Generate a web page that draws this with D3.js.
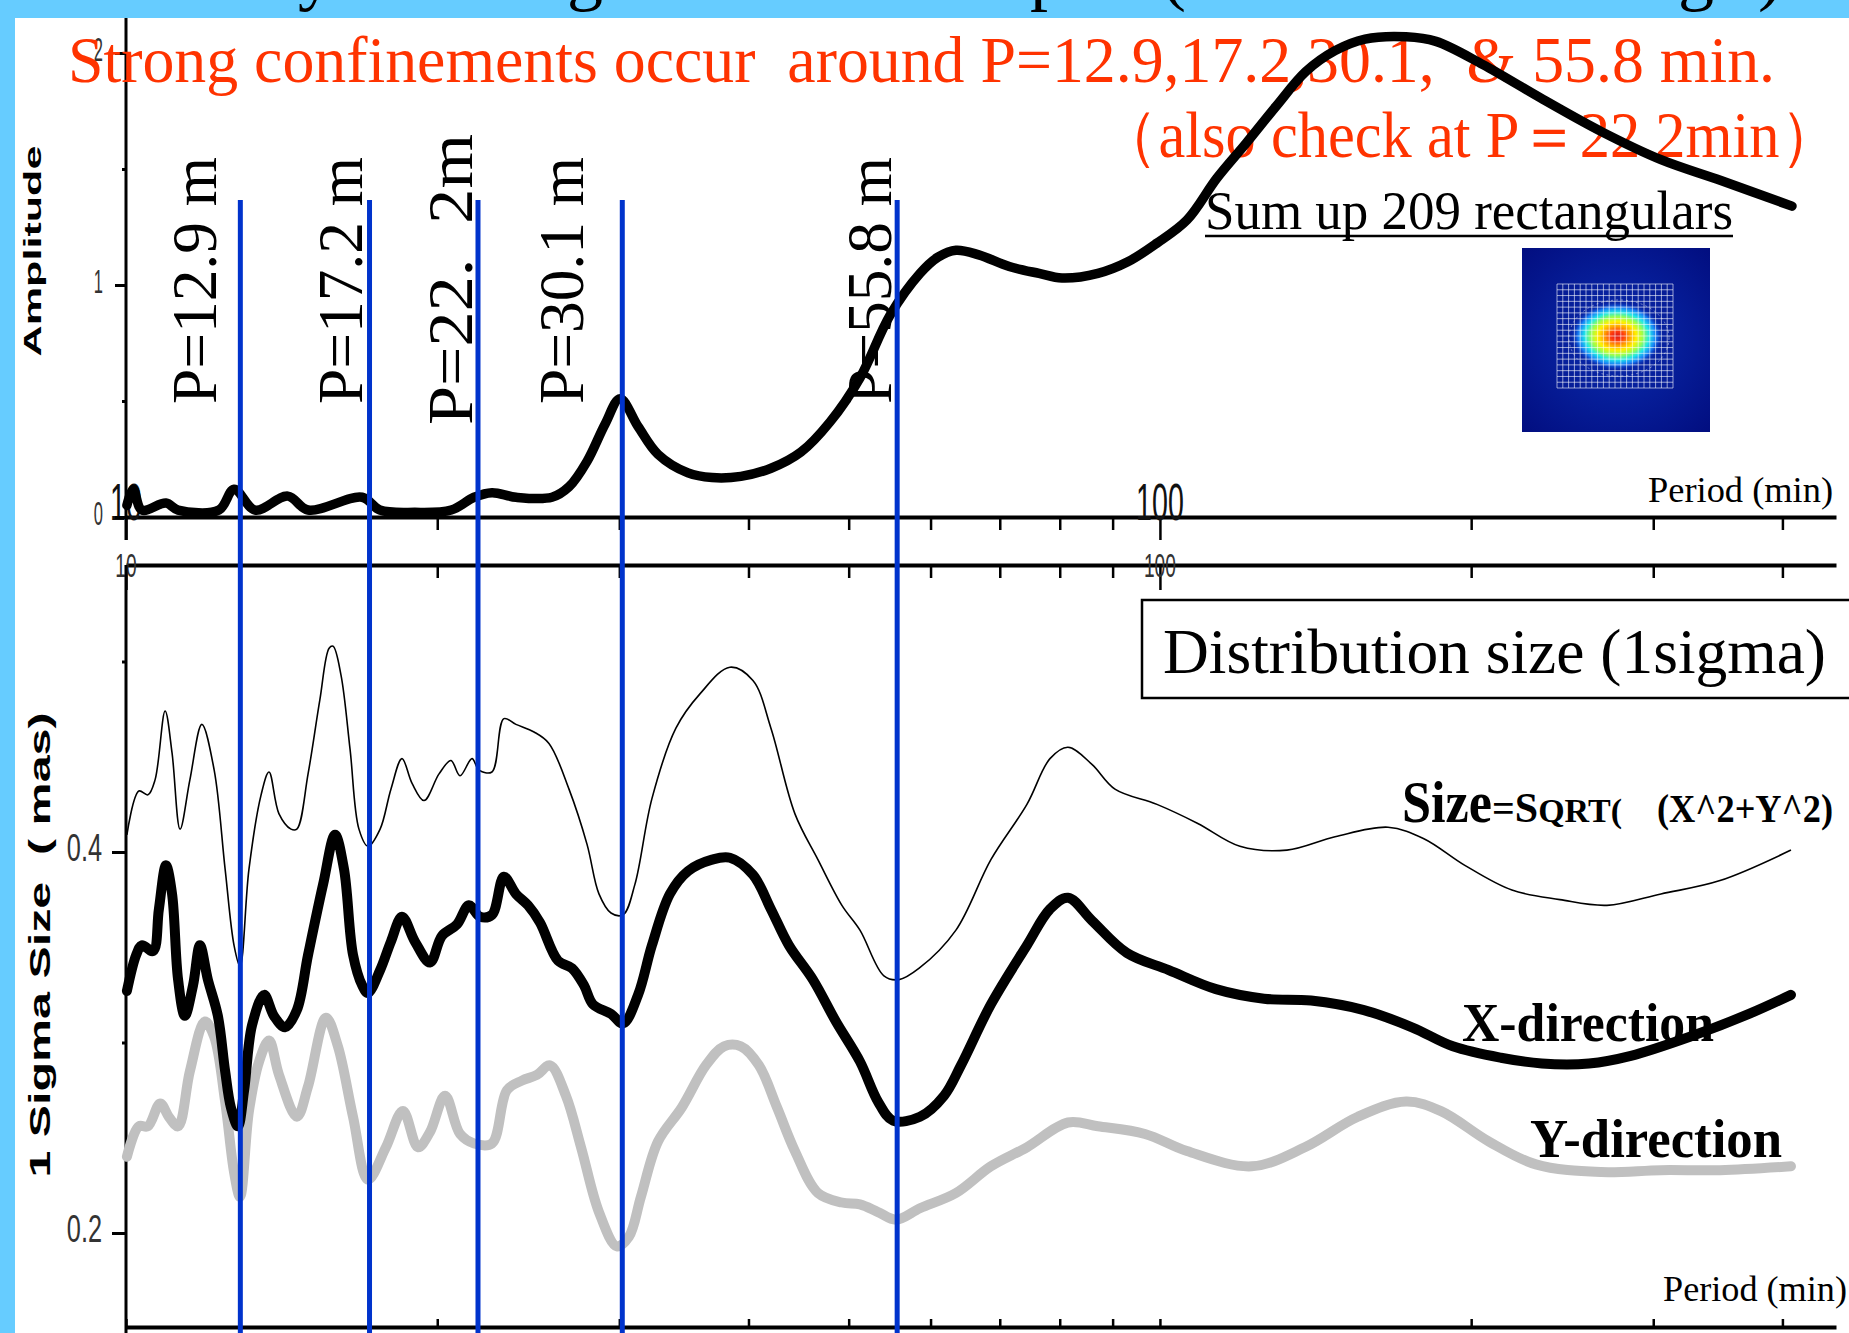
<!DOCTYPE html>
<html><head><meta charset="utf-8">
<script src="https://cdn.jsdelivr.net/npm/d3@7"></script>
<style>body{margin:0;background:#66ccff;} svg{display:block} text{white-space:pre}</style>
</head><body>
<script>
// ---------------- DATA ----------------
const periodTicks = [10,20,30,40,50,60,70,80,90,100,200,300,400];
const majorTicks = [10,100];
const ampTicks = [0,0.5,1,1.5,2];
const ampLabeled = [0,1,2];
const sigmaTicks = [0.2,0.3,0.4,0.5];
const sigmaLabeled = [0.2,0.4];

// Amplitude spectrum (top panel)
const ampPeriod = [10.02,10.16,10.36,10.93,11.23,12.30,12.72,13.33,14.34,15.00,16.92,17.60,19.03,20.63,21.71,22.59,23.84,25.82,26.82,27.92,29.06,30.05,31.28,32.70,34.96,36.88,39.33,42.06,44.96,47.97,51.28,54.83,58.61,61.0,63.5,66.8,71.5,76.4,80.4,87.1,93.1,99.3,106.2,113.5,121.1,129.5,138.4,147.7,157.9,173.0,184.9,205.3,234.7,267.6,305.2,348.8,408.6];
const ampValue = [0.05,0.12,0.03,0.06,0.03,0.03,0.12,0.03,0.09,0.03,0.085,0.03,0.02,0.03,0.085,0.105,0.085,0.085,0.13,0.24,0.40,0.51,0.39,0.27,0.19,0.17,0.175,0.21,0.28,0.41,0.60,0.87,1.05,1.12,1.15,1.13,1.08,1.05,1.03,1.05,1.10,1.18,1.28,1.46,1.61,1.77,1.92,2.01,2.06,2.07,2.05,1.95,1.80,1.66,1.54,1.45,1.34];

// Size = SQRT(X^2+Y^2) (thin line)
const sizePeriod = [10.02,10.29,10.50,10.67,10.91,11.08,11.28,11.53,11.84,12.17,12.47,12.72,12.89,13.15,13.51,13.75,14.06,14.44,14.63,15.00,15.40,15.72,15.86,16.14,16.47,16.80,17.14,17.61,18.04,18.49,18.91,19.42,20.08,20.62,21.04,21.61,21.95,22.59,23.20,23.83,24.81,25.65,26.82,27.92,28.67,29.45,30.25,31.06,32.26,34.03,35.90,38.38,40.40,42.05,44.36,46.69,49.25,51.27,54.08,55.92,58.5,63.49,68.63,74.36,78.28,81.48,85.95,90.47,99.34,108.8,119.5,132.7,147.7,166.2,180.0,197.2,219.0,243.7,270.6,305.2,348.1,407.7];
const sizeValue = [0.409,0.432,0.430,0.438,0.474,0.452,0.412,0.438,0.467,0.443,0.391,0.351,0.340,0.391,0.430,0.442,0.420,0.412,0.412,0.441,0.480,0.507,0.508,0.493,0.454,0.412,0.403,0.412,0.433,0.449,0.436,0.427,0.441,0.448,0.440,0.449,0.443,0.442,0.470,0.467,0.463,0.457,0.433,0.404,0.378,0.368,0.367,0.383,0.428,0.465,0.483,0.497,0.490,0.465,0.420,0.396,0.372,0.359,0.335,0.333,0.339,0.359,0.396,0.425,0.449,0.455,0.446,0.433,0.425,0.415,0.403,0.401,0.408,0.413,0.407,0.393,0.380,0.375,0.372,0.378,0.385,0.401];

// X-direction (thick black)
const xdirPeriod = [10.02,10.23,10.36,10.62,10.76,10.93,11.08,11.23,11.40,11.61,11.79,12.00,12.27,12.47,12.63,12.83,13.01,13.24,13.60,13.90,14.25,14.63,15.00,15.51,15.93,16.25,16.58,16.92,17.14,17.61,18.04,18.49,19.03,19.68,20.21,20.90,21.46,22.00,22.59,23.20,23.83,24.48,25.14,26.17,27.00,27.73,28.29,29.45,30.25,31.28,32.26,33.58,34.96,36.88,38.38,40.40,42.05,43.77,46.17,48.60,51.27,53.37,55.18,58.60,61.82,64.20,68.63,74.36,78.28,81.48,85.95,92.92,102.0,113.3,126.1,140.0,157.5,175.3,192.0,213.7,234.1,260.0,285.4,325.5,371.3,407.7];
const xdirValue = [0.327,0.346,0.351,0.348,0.370,0.393,0.378,0.333,0.314,0.330,0.351,0.333,0.314,0.285,0.266,0.256,0.275,0.309,0.325,0.314,0.308,0.317,0.346,0.383,0.409,0.391,0.346,0.330,0.326,0.338,0.353,0.366,0.353,0.342,0.356,0.362,0.372,0.366,0.367,0.387,0.378,0.372,0.363,0.343,0.339,0.330,0.320,0.315,0.310,0.325,0.351,0.378,0.390,0.396,0.397,0.388,0.370,0.351,0.333,0.311,0.290,0.269,0.259,0.261,0.272,0.288,0.320,0.351,0.370,0.376,0.364,0.347,0.338,0.328,0.323,0.322,0.317,0.308,0.298,0.292,0.289,0.289,0.293,0.303,0.315,0.325];

// Y-direction (thick grey)
const ydirPeriod = [10.02,10.29,10.50,10.79,11.00,11.23,11.53,11.92,12.17,12.47,12.72,12.89,13.15,13.45,13.75,14.06,14.63,15.00,15.61,16.03,16.58,17.14,17.84,18.53,19.16,19.68,20.35,21.04,21.71,22.59,23.36,24.15,24.97,25.71,26.64,27.55,28.67,29.84,30.65,31.48,32.70,34.49,36.38,37.88,39.33,40.94,42.62,44.36,46.69,49.25,51.27,53.37,55.55,58.60,63.49,68.63,74.36,81.48,87.1,96.72,106.2,122.7,138.1,155.4,173.0,187.0,208.1,231.0,267.0,305.2,348.1,407.7];
const ydirValue = [0.240,0.256,0.256,0.268,0.261,0.256,0.285,0.311,0.303,0.269,0.232,0.219,0.264,0.290,0.301,0.283,0.261,0.277,0.313,0.298,0.261,0.228,0.245,0.264,0.245,0.253,0.272,0.252,0.247,0.247,0.275,0.280,0.283,0.288,0.272,0.245,0.211,0.193,0.198,0.219,0.248,0.266,0.288,0.298,0.298,0.288,0.266,0.243,0.221,0.216,0.215,0.211,0.207,0.213,0.221,0.235,0.245,0.258,0.256,0.252,0.243,0.235,0.245,0.261,0.269,0.264,0.248,0.236,0.232,0.233,0.233,0.235];

// Marked confinement periods (blue lines) and their labels
const markPeriod = [12.9,17.2,21.9,30.2,55.7];
const markLabel = ["P=12.9 m","P=17.2 m","P=22.  2m","P=30.1 m","P=55.8 m"];

// ---------------- LAYOUT ----------------
const W = 1849, H = 1333;
const SERIF = "'Liberation Serif','Times New Roman',serif";
const SANS = "'Liberation Sans',Arial,sans-serif";
const RED = "#ff3300";
const BLUE = "#0033cc";

const svg = d3.select("body").append("svg").attr("width", W).attr("height", H);
svg.append("rect").attr("width", W).attr("height", H).attr("fill", "#66ccff");

// Title (mostly hidden behind the white panel, as in the reference)
const titleParts = [["Periodicity",18],["of the",340],["Image",455],["Distribution",640],["Shape",922],["(",1162],["Sum of 209",1195],["images",1570],[")",1758]];
const title = svg.append("text").attr("y", -3).attr("font-family", SERIF).attr("font-size", 72).attr("fill", "#000");
titleParts.forEach(([t, xx]) => title.append("tspan").attr("x", xx).text(t));

svg.append("rect").attr("x", 15).attr("y", 18).attr("width", W - 15).attr("height", H - 18).attr("fill", "#fff");

// Scales
const x = d3.scaleLog().domain([10, 450.7]).range([126, 1836]);
const yA = d3.scaleLinear().domain([0, 2]).range([517, 53]);
const yS = d3.scaleLinear().domain([0.2, 0.4]).range([1233, 852]);

function styleTickText(sel, sx, xoff, yoff, fs, color) {
  sel.attr("x", xoff / sx).attr("y", yoff).attr("dy", null)
     .attr("transform", `scale(${sx},1)`)
     .attr("font-size", fs).attr("font-family", SANS).attr("fill", color);
}

// ---------- Top panel axes ----------
const gTopX = svg.append("g").attr("transform", "translate(0,517)")
  .call(d3.axisBottom(x).tickValues(periodTicks).tickSize(13).tickSizeOuter(0).tickFormat(""));
gTopX.select(".domain").attr("stroke-width", 4).attr("stroke", "#000");
gTopX.selectAll(".tick line").attr("stroke-width", 2.5).attr("stroke", "#000")
  .attr("y2", d => majorTicks.includes(d) ? 23 : 13);
majorTicks.forEach(v => {
  svg.append("text").attr("transform", `translate(${x(v)},520) scale(0.55,1)`)
    .attr("text-anchor", "middle").attr("font-family", SANS).attr("font-size", 52)
    .attr("fill", "#111").text(v);
});

const gTopY = svg.append("g").attr("transform", "translate(126,0)")
  .call(d3.axisLeft(yA).tickValues(ampTicks).tickSize(11).tickFormat(d => ampLabeled.includes(d) ? d : ""));
gTopY.select(".domain").remove();
gTopY.selectAll(".tick line").attr("stroke", "#000").attr("stroke-width", 3)
  .attr("x2", d => ampLabeled.includes(d) ? -11 : -4);
styleTickText(gTopY.selectAll(".tick text"), 0.5, -23, 7, 33, "#333");
svg.append("line").attr("x1", 126).attr("x2", 126).attr("y1", 18).attr("y2", 540)
  .attr("stroke", "#000").attr("stroke-width", 3);

// ---------- Bottom panel axes ----------
const gBotTop = svg.append("g").attr("transform", "translate(0,565)")
  .call(d3.axisBottom(x).tickValues(periodTicks).tickSize(13).tickSizeOuter(0).tickFormat(""));
gBotTop.select(".domain").attr("stroke-width", 4).attr("stroke", "#000");
gBotTop.selectAll(".tick line").attr("stroke-width", 2.5).attr("stroke", "#000")
  .attr("y2", d => majorTicks.includes(d) ? 25 : 13);
majorTicks.forEach(v => {
  svg.append("text").attr("transform", `translate(${x(v)},577) scale(0.58,1)`)
    .attr("text-anchor", "middle").attr("font-family", SANS).attr("font-size", 33)
    .attr("fill", "#333").text(v);
});

const gBotBottom = svg.append("g").attr("transform", "translate(0,1327)")
  .call(d3.axisTop(x).tickValues(periodTicks).tickSize(8).tickSizeOuter(0).tickFormat(""));
gBotBottom.select(".domain").attr("stroke-width", 4).attr("stroke", "#000");
gBotBottom.selectAll(".tick line").attr("stroke-width", 2.5).attr("stroke", "#000");

const gBotY = svg.append("g").attr("transform", "translate(126,0)")
  .call(d3.axisLeft(yS).tickValues(sigmaTicks).tickSize(14)
    .tickFormat(d => sigmaLabeled.includes(d) ? d3.format(".1f")(d) : ""));
gBotY.select(".domain").remove();
gBotY.selectAll(".tick line").attr("stroke", "#000").attr("stroke-width", 3)
  .attr("x2", d => sigmaLabeled.includes(d) ? -14 : -4);
styleTickText(gBotY.selectAll(".tick text"), 0.65, -24, 8, 39, "#333");
svg.append("line").attr("x1", 126).attr("x2", 126).attr("y1", 565).attr("y2", 1333)
  .attr("stroke", "#000").attr("stroke-width", 3);

// ---------- Axis titles ----------
svg.append("text").attr("transform", "translate(41,251) rotate(-90)")
  .attr("text-anchor", "middle").attr("font-family", SANS).attr("font-weight", "bold")
  .attr("font-size", 23).attr("textLength", 211).attr("lengthAdjust", "spacingAndGlyphs")
  .attr("fill", "#000").text("Amplitude");
svg.append("text").attr("transform", "translate(50,945) rotate(-90)")
  .attr("text-anchor", "middle").attr("font-family", SANS).attr("font-weight", "bold")
  .attr("font-size", 29).attr("textLength", 465).attr("lengthAdjust", "spacingAndGlyphs")
  .attr("fill", "#000").text("1 Sigma Size  ( mas)");

svg.append("text").attr("x", 1648).attr("y", 502).attr("font-family", SERIF).attr("font-size", 35)
  .attr("textLength", 185).attr("lengthAdjust", "spacingAndGlyphs").text("Period (min)");
svg.append("text").attr("x", 1663).attr("y", 1301).attr("font-family", SERIF).attr("font-size", 35)
  .attr("textLength", 184).attr("lengthAdjust", "spacingAndGlyphs").text("Period (min)");

// ---------- Annotations (top) ----------
svg.append("text").attr("x", 68).attr("y", 82).attr("font-family", SERIF).attr("font-size", 66)
  .attr("fill", RED).attr("textLength", 1707).attr("lengthAdjust", "spacingAndGlyphs")
  .text("Strong confinements occur  around P=12.9,17.2,30.1,  & 55.8 min.");
svg.append("text").attr("x", 1098).attr("y", 157).attr("font-family", SERIF).attr("font-size", 65)
  .attr("fill", RED).attr("textLength", 742).attr("lengthAdjust", "spacingAndGlyphs")
  .text("（also check at P＝22.2min）");

svg.append("text").attr("x", 1205).attr("y", 229).attr("font-family", SERIF).attr("font-size", 54)
  .attr("textLength", 528).attr("lengthAdjust", "spacingAndGlyphs").text("Sum up 209 rectangulars");
svg.append("line").attr("x1", 1205).attr("x2", 1733).attr("y1", 236).attr("y2", 236)
  .attr("stroke", "#000").attr("stroke-width", 2.5);

// Rotated period labels
const labelDx = [-24, -8, -6, -39, -6];
const labelY = [404, 404, 425, 404, 404];
const labelLen = [247, 247, 291, 247, 247];
markLabel.forEach((t, i) => {
  svg.append("text")
    .attr("transform", `translate(${x(markPeriod[i]) + labelDx[i]},${labelY[i]}) rotate(-90)`)
    .attr("font-family", SERIF).attr("font-size", 64)
    .attr("textLength", labelLen[i]).attr("lengthAdjust", "spacingAndGlyphs")
    .attr("fill", "#000").text(t);
});

// ---------- Inset picture ----------
const defs = svg.append("defs");
const bg = defs.append("radialGradient").attr("id", "insetBg").attr("cx", "50%").attr("cy", "50%").attr("r", "70%");
bg.append("stop").attr("offset", "0%").attr("stop-color", "#0a2cb0");
bg.append("stop").attr("offset", "100%").attr("stop-color", "#020e80");
const blob = defs.append("radialGradient").attr("id", "blob").attr("cx", "50%").attr("cy", "50%").attr("r", "50%");
[["0%","#d81818",1],["14%","#ff3a10",1],["28%","#ffa000",1],["42%","#fff000",1],["56%","#9cff4a",1],["70%","#20e8e8",1],["84%","#1a8cff",0.9],["100%","#0a30c0",0]]
  .forEach(([o,c,op]) => blob.append("stop").attr("offset", o).attr("stop-color", c).attr("stop-opacity", op));
const inset = svg.append("g");
inset.append("rect").attr("x", 1522).attr("y", 248).attr("width", 188).attr("height", 184).attr("fill", "url(#insetBg)");
inset.append("ellipse").attr("cx", 1617).attr("cy", 336).attr("rx", 46).attr("ry", 34).attr("fill", "url(#blob)");
inset.append("ellipse").attr("cx", 1619).attr("cy", 338).attr("rx", 50).attr("ry", 38)
  .attr("fill", "none").attr("stroke", "#fff").attr("stroke-opacity", 0.45).attr("stroke-dasharray", "2,3");
const gx0 = 1557, gx1 = 1673, gy0 = 284, gy1 = 388;
d3.range(21).forEach(i => {
  const xx = gx0 + (gx1 - gx0) * i / 20;
  inset.append("line").attr("x1", xx).attr("x2", xx).attr("y1", gy0).attr("y2", gy1)
    .attr("stroke", "#fff").attr("stroke-opacity", 0.75).attr("stroke-width", 0.8);
});
d3.range(19).forEach(i => {
  const yy = gy0 + (gy1 - gy0) * i / 18;
  inset.append("line").attr("x1", gx0).attr("x2", gx1).attr("y1", yy).attr("y2", yy)
    .attr("stroke", "#fff").attr("stroke-opacity", 0.75).attr("stroke-width", 0.8);
});

// ---------- Curves ----------
const curve = d3.curveCatmullRom.alpha(0.5);
const lineA = d3.line().x(d => x(d[0])).y(d => yA(d[1])).curve(curve);
const lineS = d3.line().x(d => x(d[0])).y(d => yS(d[1])).curve(curve);

svg.append("path").datum(d3.zip(ampPeriod, ampValue)).attr("d", lineA)
  .attr("fill", "none").attr("stroke", "#000").attr("stroke-width", 9.5)
  .attr("stroke-linejoin", "round").attr("stroke-linecap", "round");

svg.append("path").datum(d3.zip(sizePeriod, sizeValue)).attr("d", lineS)
  .attr("fill", "none").attr("stroke", "#000").attr("stroke-width", 1.6).attr("stroke-linejoin", "round");

svg.append("path").datum(d3.zip(ydirPeriod, ydirValue)).attr("d", lineS)
  .attr("fill", "none").attr("stroke", "#c0c0c0").attr("stroke-width", 10)
  .attr("stroke-linejoin", "round").attr("stroke-linecap", "round");

// series labels
svg.append("text").attr("x", 1530).attr("y", 1157).attr("font-family", SERIF).attr("font-weight", "bold")
  .attr("font-size", 54).attr("textLength", 252).attr("lengthAdjust", "spacingAndGlyphs").text("Y-direction");
svg.append("text").attr("x", 1462).attr("y", 1041).attr("font-family", SERIF).attr("font-weight", "bold")
  .attr("font-size", 54).attr("textLength", 252).attr("lengthAdjust", "spacingAndGlyphs").text("X-direction");
const sizeLbl = svg.append("text").attr("y", 822).attr("font-family", SERIF).attr("font-weight", "bold");
sizeLbl.append("tspan").attr("x", 1402).attr("font-size", 59).attr("textLength", 90).attr("lengthAdjust", "spacingAndGlyphs").text("Size");
sizeLbl.append("tspan").attr("font-size", 40).text("=");
sizeLbl.append("tspan").attr("font-size", 42).text("S");
sizeLbl.append("tspan").attr("font-size", 34).text("QRT(");
sizeLbl.append("tspan").attr("x", 1657).attr("font-size", 40).attr("textLength", 176).attr("lengthAdjust", "spacingAndGlyphs").text("(X^2+Y^2)");

svg.append("path").datum(d3.zip(xdirPeriod, xdirValue)).attr("d", lineS)
  .attr("fill", "none").attr("stroke", "#000").attr("stroke-width", 10)
  .attr("stroke-linejoin", "round").attr("stroke-linecap", "round");

// ---------- Blue marker lines ----------
svg.selectAll(".mark").data(markPeriod).enter().append("line").attr("class", "mark")
  .attr("x1", d => x(d)).attr("x2", d => x(d)).attr("y1", 200).attr("y2", H)
  .attr("stroke", BLUE).attr("stroke-width", 5);

// ---------- Distribution box ----------
svg.append("rect").attr("x", 1142).attr("y", 600).attr("width", 740).attr("height", 98)
  .attr("fill", "#fff").attr("stroke", "#000").attr("stroke-width", 2.5);
svg.append("text").attr("x", 1163).attr("y", 673).attr("font-family", SERIF).attr("font-size", 63)
  .attr("textLength", 663).attr("lengthAdjust", "spacingAndGlyphs").text("Distribution size (1sigma)");
</script>
</body></html>
